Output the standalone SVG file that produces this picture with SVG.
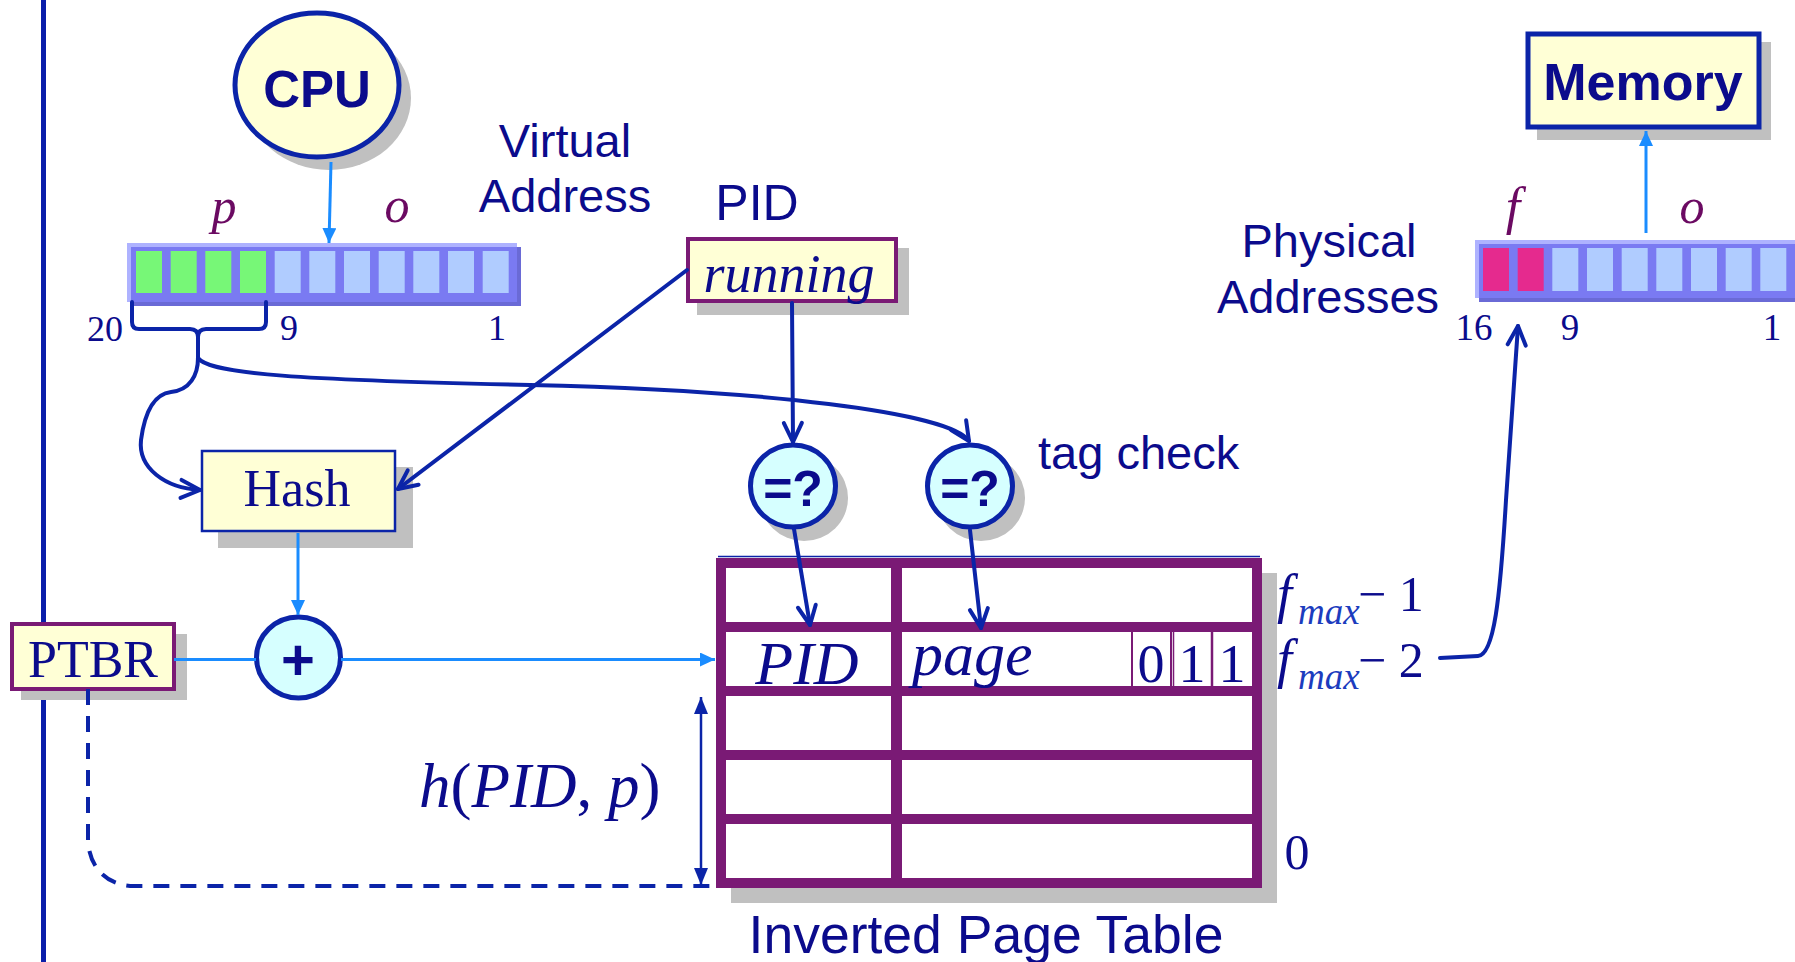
<svg xmlns="http://www.w3.org/2000/svg" width="1795" height="962" viewBox="0 0 1795 962">
  <style>
    .sans { font-family: "Liberation Sans", Arial, sans-serif; fill: #0b0b8c; }
    .serif { font-family: "Liberation Serif", "Times New Roman", serif; fill: #0b0b8c; }
    .ital { font-style: italic; }
    .sub { fill: #1c3cbe; }
    .var { font-family: "Liberation Serif", "Times New Roman", serif; font-style: italic; fill: #6b0a62; }
    .shadow { fill: #c0c0c0; }
    .note { fill: #ffffd6; }
    .cmp { fill: #d6ffff; stroke: #0b24a8; stroke-width: 5; }
    .wire { fill: none; stroke: #0b24a8; stroke-width: 4; stroke-linecap: round; }
    .bus { fill: none; stroke: #1a8cff; stroke-width: 3; }
    .frame { fill: #7a1a75; }
    .cell { fill: #ffffff; }
    .bitframe { fill: #7a7af2; }
    .bithi { fill: #aeb2ff; }
    .bitlo { fill: #6a6ad6; }
    .bitoff { fill: #b0ccff; }
    .bitpage { fill: #77f777; }
    .bitframeno { fill: #e52a8e; }
  </style>
  <defs>
    <marker id="openHead" markerUnits="userSpaceOnUse" markerWidth="26" markerHeight="26" refX="22" refY="12" orient="auto">
      <path d="M3,3 L22,12 L3,21" fill="none" stroke="#0b24a8" stroke-width="4" stroke-linecap="round" stroke-linejoin="round"/>
    </marker>
    <marker id="fillHead" markerUnits="userSpaceOnUse" markerWidth="16" markerHeight="14" refX="15" refY="7" orient="auto">
      <path d="M0,0 L15,7 L0,14 Z" fill="#1a8cff"/>
    </marker>
    <marker id="thinHead" markerUnits="userSpaceOnUse" markerWidth="18" markerHeight="14" refX="17" refY="7" orient="auto-start-reverse">
      <path d="M0,0 L17,7 L0,14 Z" fill="#0b24a8"/>
    </marker>
  </defs>

  <rect width="1795" height="962" fill="#ffffff"/>

  <!-- slide margin rule -->
  <line x1="43.5" y1="0" x2="43.5" y2="962" stroke="#0a1eaa" stroke-width="5"/>

  <!-- CPU -->
  <g id="cpu">
    <ellipse class="shadow" cx="329" cy="98" rx="82" ry="72"/>
    <ellipse class="note" cx="317" cy="85" rx="82" ry="72" stroke="#0b24a8" stroke-width="5"/>
    <text class="sans" x="317" y="107" font-size="51" font-weight="bold" text-anchor="middle">CPU</text>
  </g>

  <!-- virtual address register -->
  <g id="virtual-address">
    <rect class="bitlo" x="131" y="247" width="390" height="59"/>
    <rect class="bitframe" x="127" y="243" width="390" height="59"/>
    <rect class="bithi" x="127" y="243" width="390" height="4"/>
    <rect class="bithi" x="127" y="243" width="4" height="59"/>
    <rect class="bitpage" x="136" y="251" width="26" height="42"/>
    <rect class="bitpage" x="170.7" y="251" width="26" height="42"/>
    <rect class="bitpage" x="205.3" y="251" width="26" height="42"/>
    <rect class="bitpage" x="240" y="251" width="26" height="42"/>
    <rect class="bitoff" x="274.7" y="251" width="26" height="42"/>
    <rect class="bitoff" x="309.3" y="251" width="26" height="42"/>
    <rect class="bitoff" x="344" y="251" width="26" height="42"/>
    <rect class="bitoff" x="378.7" y="251" width="26" height="42"/>
    <rect class="bitoff" x="413.3" y="251" width="26" height="42"/>
    <rect class="bitoff" x="448" y="251" width="26" height="42"/>
    <rect class="bitoff" x="482.7" y="251" width="26" height="42"/>
    <text class="var" x="224" y="223" font-size="50" text-anchor="middle">p</text>
    <text class="var" x="397" y="222" font-size="50" text-anchor="middle">o</text>
    <text class="serif" x="105" y="341" font-size="36" text-anchor="middle">20</text>
    <text class="serif" x="289" y="340" font-size="36" text-anchor="middle">9</text>
    <text class="serif" x="497" y="340" font-size="36" text-anchor="middle">1</text>
    <text class="sans" x="565" y="157" font-size="47" text-anchor="middle">Virtual</text>
    <text class="sans" x="565" y="212" font-size="47" text-anchor="middle">Address</text>
  </g>

  <!-- process id register -->
  <g id="pid">
    <text class="sans" x="757" y="220" font-size="50" text-anchor="middle">PID</text>
    <rect class="shadow" x="697" y="248" width="212" height="67"/>
    <rect class="note" x="688" y="239" width="208" height="62" stroke="#7a1a75" stroke-width="4"/>
    <text class="serif ital" x="789" y="292" font-size="54" text-anchor="middle">running</text>
  </g>

  <!-- hash unit -->
  <g id="hash">
    <rect class="shadow" x="218" y="467" width="195" height="81"/>
    <rect class="note" x="202" y="451" width="193" height="80" stroke="#0b24a8" stroke-width="2.5"/>
    <text class="serif" x="297" y="506" font-size="52" text-anchor="middle">Hash</text>
  </g>

  <!-- page table base register -->
  <g id="ptbr">
    <rect class="shadow" x="21" y="634" width="166" height="66"/>
    <rect class="note" x="12" y="624" width="162" height="65" stroke="#7a1a75" stroke-width="4"/>
    <text class="serif" x="93" y="677" font-size="52" text-anchor="middle">PTBR</text>
  </g>

  <!-- adder -->
  <g id="adder">
    <ellipse class="cmp" cx="298.5" cy="657.5" rx="42" ry="40.5"/>
    <text class="sans" x="298" y="680" font-size="58" font-weight="bold" text-anchor="middle">+</text>
  </g>

  <!-- tag comparators -->
  <g id="cmp-pid">
    <ellipse class="shadow" cx="804" cy="498" rx="44" ry="43"/>
    <ellipse class="cmp" cx="793" cy="486" rx="42.5" ry="41"/>
    <text class="sans" x="793" y="506" font-size="50" font-weight="bold" text-anchor="middle">=?</text>
  </g>
  <g id="cmp-page">
    <ellipse class="shadow" cx="981" cy="498" rx="44" ry="43"/>
    <ellipse class="cmp" cx="970" cy="486" rx="42.5" ry="41"/>
    <text class="sans" x="970" y="506" font-size="50" font-weight="bold" text-anchor="middle">=?</text>
  </g>
  <text class="sans" x="1038" y="469" font-size="47">tag check</text>

  <!-- inverted page table -->
  <g id="page-table">
    <rect class="shadow" x="731" y="573" width="546" height="330"/>
    <rect class="frame" x="716" y="558" width="546" height="330"/>
    <line x1="718" y1="556.5" x2="1260" y2="556.5" stroke="#0b24a8" stroke-width="1.5"/>
    <rect class="cell" x="726" y="568" width="165" height="54"/>
    <rect class="cell" x="902" y="568" width="350" height="54"/>
    <rect class="cell" x="726" y="632" width="165" height="54"/>
    <rect class="cell" x="902" y="632" width="350" height="54"/>
    <rect class="cell" x="726" y="696" width="165" height="54"/>
    <rect class="cell" x="902" y="696" width="350" height="54"/>
    <rect class="cell" x="726" y="760" width="165" height="54"/>
    <rect class="cell" x="902" y="760" width="350" height="54"/>
    <rect class="cell" x="726" y="824" width="165" height="54"/>
    <rect class="cell" x="902" y="824" width="350" height="54"/>
    <line x1="1132" y1="632" x2="1132" y2="686" stroke="#7a1a75" stroke-width="2"/>
    <line x1="1171" y1="632" x2="1171" y2="686" stroke="#7a1a75" stroke-width="2"/>
    <line x1="1173.5" y1="632" x2="1173.5" y2="686" stroke="#7a1a75" stroke-width="1.5"/>
    <line x1="1212" y1="632" x2="1212" y2="686" stroke="#7a1a75" stroke-width="2.5"/>
    <text class="serif ital" x="807" y="684" font-size="62" text-anchor="middle">PID</text>
    <text class="serif ital" x="912" y="675" font-size="62">page</text>
    <text class="serif" x="1151" y="682" font-size="54" text-anchor="middle">0</text>
    <text class="serif" x="1192" y="682" font-size="54" text-anchor="middle">1</text>
    <text class="serif" x="1232" y="682" font-size="54" text-anchor="middle">1</text>
    <text class="serif ital" x="1277" y="612" font-size="54">f</text>
    <text class="serif ital sub" x="1298" y="624" font-size="37">max</text>
    <text class="serif" x="1358" y="611" font-size="50">− 1</text>
    <text class="serif ital" x="1277" y="677" font-size="54">f</text>
    <text class="serif ital sub" x="1298" y="689" font-size="37">max</text>
    <text class="serif" x="1358" y="677" font-size="50">− 2</text>
    <text class="serif" x="1297" y="869" font-size="50" text-anchor="middle">0</text>
    <text class="sans" x="986" y="953" font-size="53.5" text-anchor="middle">Inverted Page Table</text>
  </g>

  <!-- hash offset label -->
  <text class="serif" x="419" y="807" font-size="63"><tspan font-style="italic">h</tspan>(<tspan font-style="italic">PID</tspan>, <tspan font-style="italic">p</tspan>)</text>

  <!-- memory -->
  <g id="memory">
    <rect class="shadow" x="1537" y="42" width="234" height="98"/>
    <rect class="note" x="1528" y="34" width="231" height="93" stroke="#0b24a8" stroke-width="5"/>
    <text class="sans" x="1643" y="100" font-size="52" font-weight="bold" text-anchor="middle">Memory</text>
  </g>

  <!-- physical address register -->
  <g id="physical-address">
    <rect class="bitlo" x="1479" y="244" width="316" height="58"/>
    <rect class="bitframe" x="1475" y="240" width="320" height="58"/>
    <rect class="bithi" x="1475" y="240" width="320" height="4"/>
    <rect class="bithi" x="1475" y="240" width="4" height="58"/>
    <rect class="bitframeno" x="1483" y="248" width="26" height="43"/>
    <rect class="bitframeno" x="1517.7" y="248" width="26" height="43"/>
    <rect class="bitoff" x="1552.3" y="248" width="26" height="43"/>
    <rect class="bitoff" x="1587" y="248" width="26" height="43"/>
    <rect class="bitoff" x="1621.7" y="248" width="26" height="43"/>
    <rect class="bitoff" x="1656.3" y="248" width="26" height="43"/>
    <rect class="bitoff" x="1691" y="248" width="26" height="43"/>
    <rect class="bitoff" x="1725.7" y="248" width="26" height="43"/>
    <rect class="bitoff" x="1760.3" y="248" width="26" height="43"/>
    <text class="var" x="1513" y="224" font-size="52" text-anchor="middle">f</text>
    <text class="var" x="1692" y="223" font-size="50" text-anchor="middle">o</text>
    <text class="serif" x="1474" y="340" font-size="37" text-anchor="middle">16</text>
    <text class="serif" x="1570" y="340" font-size="37" text-anchor="middle">9</text>
    <text class="serif" x="1772" y="340" font-size="37" text-anchor="middle">1</text>
    <text class="sans" x="1329" y="257" font-size="47" text-anchor="middle">Physical</text>
    <text class="sans" x="1328" y="313" font-size="47" text-anchor="middle">Addresses</text>
  </g>

  <!-- connectors -->
  <g id="connectors">
    <line class="bus" x1="331" y1="162" x2="329" y2="243" marker-end="url(#fillHead)"/>
    <path class="wire" d="M132,302 L132,322 Q132,329 139,329 L190,329 Q198,329 198,337 L198,358"/>
    <path class="wire" d="M266,302 L266,322 Q266,329 259,329 L206,329 Q198,329 198,337"/>
    <path class="wire" d="M198,358 C198,375 190,390 171,392 C155,394 145,410 141,440 C138,468 165,488 200,490" marker-end="url(#openHead)"/>
    <path class="wire" d="M198,358 C210,374 300,380 530,385 S950,412 969,441" marker-end="url(#openHead)"/>
    <line class="wire" x1="687" y1="270" x2="398" y2="489" marker-end="url(#openHead)"/>
    <line class="wire" x1="792" y1="303" x2="793" y2="442" marker-end="url(#openHead)"/>
    <line class="wire" x1="794" y1="529" x2="810" y2="625" marker-end="url(#openHead)"/>
    <line class="wire" x1="970" y1="530" x2="981" y2="628" marker-end="url(#openHead)"/>
    <line class="bus" x1="298" y1="533" x2="298" y2="615" marker-end="url(#fillHead)"/>
    <line class="bus" x1="174" y1="659.5" x2="256" y2="659.5"/>
    <line class="bus" x1="341" y1="659.5" x2="715" y2="659.5" marker-end="url(#fillHead)"/>
    <path d="M88,689 L88,838 C88,866 106,886 134,886 L714,886" fill="none" stroke="#0b24a8" stroke-width="4" stroke-dasharray="16 11"/>
    <line x1="701" y1="697" x2="701" y2="885" stroke="#0b24a8" stroke-width="2.5" marker-start="url(#thinHead)" marker-end="url(#thinHead)"/>
    <path class="wire" d="M1440,658 L1478,656 C1494,655 1500,600 1506,500 C1511,420 1515,370 1518,326" marker-end="url(#openHead)"/>
    <line class="bus" x1="1646" y1="233" x2="1646" y2="131" marker-end="url(#fillHead)"/>
  </g>
</svg>
